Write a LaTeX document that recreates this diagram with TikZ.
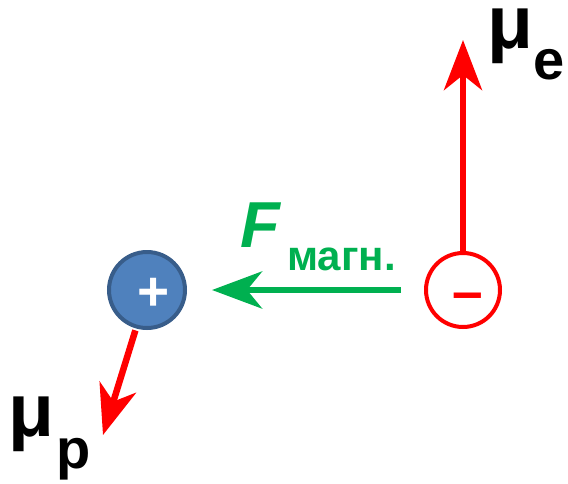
\documentclass[tikz,border=0pt]{standalone}
\usepackage{fontspec}
\setmainfont{Liberation Sans}
\usepackage{xcolor}
\definecolor{fgreen}{RGB}{0,176,80}
\definecolor{mred}{RGB}{255,0,0}
\definecolor{pblue}{RGB}{79,129,189}
\definecolor{pbluedark}{RGB}{56,93,138}
\usetikzlibrary{arrows.meta, positioning}

\begin{document}
\begin{tikzpicture}[x=1pt, y=-1pt,
    moment/.style={mred, line width=6.5pt, -{Stealth[length=50pt, width=38pt, inset=15pt]}},
    force/.style={fgreen, line width=6.5pt, -{Stealth[length=50pt, width=37pt, inset=15pt]}},
    particle/.style={circle, inner sep=0pt, line width=4pt},
    charge/.style={font=\fontsize{55}{55}\selectfont\bfseries, inner sep=0pt, anchor=base},
    momlabel/.style={font=\fontsize{75}{75}\selectfont\bfseries, inner sep=0pt, anchor=base west}]
  \useasboundingbox (0,0) rectangle (568,483);

  % particles
  \node[particle, minimum size=76pt, fill=pblue, draw=pbluedark] (proton) at (147,290) {};
  \node[particle, minimum size=74pt, fill=white, draw=mred] (electron) at (463,290) {};
  \node[charge, white] (plus) at (153.5,310) {+};
  \node[charge, mred] (minus) at (468,310) {–};

  % magnetic moments
  \coordinate (mue tip) at (463,40);
  \coordinate (mup tip) at (103,435);
  \draw[moment] (electron.north) -- (mue tip);
  \draw[moment, shorten <=2pt] (proton.-106) -- (mup tip);
  \node[momlabel] (mue) at (487,48)
        {μ\raisebox{-31pt}{\fontsize{56}{56}\selectfont e}};
  \node[momlabel] (mup) at (8,436.5)
        {μ\kern2pt\raisebox{-31.5pt}{\fontsize{56}{56}\selectfont p}};

  % magnetic force
  \draw[force, shorten <=23pt, shorten >=25pt] (electron.west) -- (proton.east);
  \node[font=\fontsize{65}{65}\selectfont\bfseries, fgreen, inner sep=0pt, anchor=base west]
        (fmag) at (240,247)
        {\textit{F}\kern6pt\raisebox{-23pt}{\fontsize{42}{42}\selectfont магн.}};
\end{tikzpicture}
\end{document}
